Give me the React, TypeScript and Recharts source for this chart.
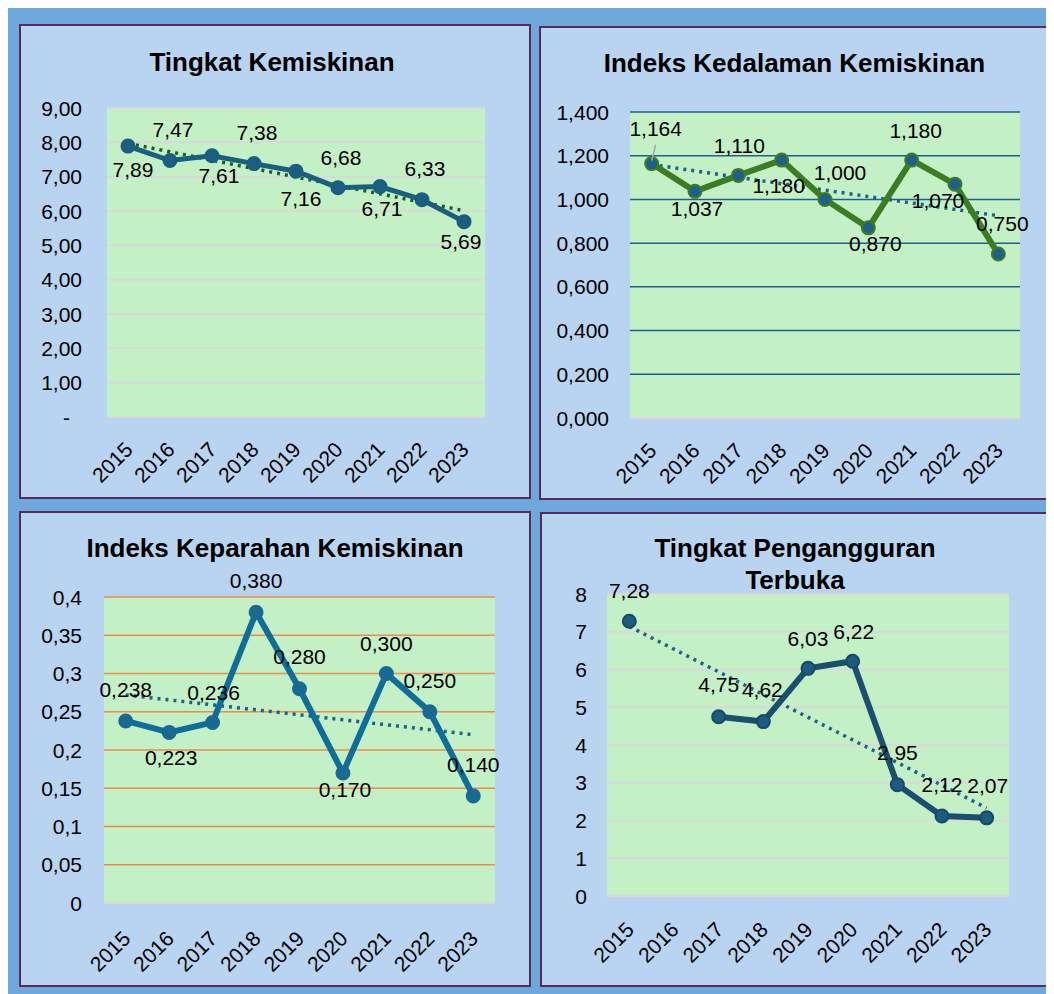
import React from "react";
import { LineChart, Line, XAxis, YAxis, CartesianGrid, LabelList } from "recharts";

const years = ["2015", "2016", "2017", "2018", "2019", "2020", "2021", "2022", "2023"];

// Tingkat Kemiskinan (%)
const kemiskinan = [7.89, 7.47, 7.61, 7.38, 7.16, 6.68, 6.71, 6.33, 5.69];
const kemiskinanTrend = [7.97, 6.01];
const kemiskinanTicks = [0, 1, 2, 3, 4, 5, 6, 7, 8, 9];

// Indeks Kedalaman Kemiskinan
const kedalaman = [1.164, 1.037, 1.11, 1.18, 1.0, 0.87, 1.18, 1.07, 0.75];
const kedalamanTrend = [1.16, 0.925];
const kedalamanTicks = [0, 0.2, 0.4, 0.6, 0.8, 1.0, 1.2, 1.4];

// Indeks Keparahan Kemiskinan
const keparahan = [0.238, 0.223, 0.236, 0.38, 0.28, 0.17, 0.3, 0.25, 0.14];
const keparahanTrend = [0.272, 0.22];
const keparahanTicks = [0, 0.05, 0.1, 0.15, 0.2, 0.25, 0.3, 0.35, 0.4];

// Tingkat Pengangguran Terbuka (2016 kosong)
const pengangguran = [7.28, null, 4.75, 4.62, 6.03, 6.22, 2.95, 2.12, 2.07];
const pengangguranTrend = [7.14, 2.33];
const pengangguranTicks = [0, 1, 2, 3, 4, 5, 6, 7, 8];

const FONT = "'Liberation Sans', Arial, sans-serif";
const FS = 21;

type Offset = [number, number];

function buildData(values: (number | null)[], trend: number[]) {
  return years.map((year, i) => ({
    year,
    value: values[i],
    trend: i === 0 ? trend[0] : i === years.length - 1 ? trend[1] : null,
  }));
}

const comma = (v: number, d: number) => v.toFixed(d).replace(".", ",");

type PanelProps = {
  left: number;
  top: number;
  width: number;
  height: number;
  title: string[];
  titleTop: number;
  titleDx?: number;
  data: { year: string; value: number | null; trend: number | null }[];
  ticks: number[];
  yFmt: (v: number) => string;
  yGap: number;
  labelDecimals: number;
  labelOffsets: Offset[];
  leader?: number;
  margin: { top: number; right: number; left: number; bottom: number };
  lineColor: string;
  lineWidth: number;
  dotFill: string;
  dotStroke: string;
  trendColor: string;
  gridColor: string;
  gridWidth: number;
  xLabelDy: number;
};

function Panel(p: PanelProps) {
  const plotW = p.width - p.margin.left - p.margin.right;
  const half = plotW / years.length / 2;

  const XTick = (props: any) => {
    const { x, y, payload } = props;
    const ax = x + 6;
    const ay = y + p.xLabelDy;
    return (
      <text
        x={ax}
        y={ay}
        textAnchor="end"
        fontSize={FS}
        fontFamily={FONT}
        fill="#000"
        transform={`rotate(-45 ${ax} ${ay})`}
      >
        {payload.value}
      </text>
    );
  };

  const YTick = (props: any) => {
    const { x, y, payload } = props;
    const txt = p.yFmt(payload.value);
    const shift = txt === "-" ? -12 : 0;
    return (
      <text
        x={x + shift}
        y={y}
        textAnchor="end"
        dominantBaseline="central"
        fontSize={FS}
        fontFamily={FONT}
        fill="#000"
      >
        {txt}
      </text>
    );
  };

  const renderLabel = (props: any) => {
    const { x, y, value, index } = props;
    if (value == null || x == null || y == null) return null;
    const [dx, dy] = p.labelOffsets[index] || [0, -30];
    return (
      <g key={`lbl-${index}`}>
        {p.leader === index && (
          <line x1={x} y1={y - 3} x2={x + 4} y2={y - 19} stroke="#a6a6a6" strokeWidth={1.5} />
        )}
        <text
          x={x + dx}
          y={y + dy}
          textAnchor="middle"
          dominantBaseline="central"
          fontSize={FS}
          fontFamily={FONT}
          fill="#000"
        >
          {comma(value, p.labelDecimals)}
        </text>
      </g>
    );
  };

  const yMax = p.ticks[p.ticks.length - 1];

  return (
    <div
      style={{
        position: "absolute",
        left: p.left,
        top: p.top,
        width: p.width,
        height: p.height,
        background: "#b9d4f0",
        boxShadow: "inset 0 0 0 2px #5c2a5a",
      }}
    >
      {p.title.map((t, i) => (
        <div
          key={t}
          style={{
            position: "absolute",
            left: p.titleDx || 0,
            width: p.width,
            top: p.titleTop + i * 32 - 16,
            lineHeight: "32px",
            textAlign: "center",
            fontFamily: FONT,
            fontWeight: "bold",
            fontSize: 26,
            color: "#000",
          }}
        >
          {t}
        </div>
      ))}
      <div style={{ position: "absolute", left: 0, top: 0 }}>
        <LineChart
          width={p.width}
          height={p.height}
          data={p.data}
          margin={{ top: p.margin.top, right: p.margin.right, left: 0, bottom: 0 }}
        >
          <CartesianGrid
            vertical={false}
            fill="#c4f0c6"
            fillOpacity={1}
            stroke={p.gridColor}
            strokeWidth={p.gridWidth}
          />
          <XAxis
            dataKey="year"
            height={p.margin.bottom}
            tick={XTick}
            tickLine={false}
            tickSize={0}
            tickMargin={0}
            padding={{ left: half, right: half }}
            axisLine={{ stroke: "#d9d9d9", strokeWidth: 2 }}
            interval={0}
          />
          <YAxis
            width={p.margin.left}
            domain={[0, yMax]}
            ticks={p.ticks}
            tick={YTick}
            tickLine={false}
            tickSize={0}
            tickMargin={p.yGap}
            axisLine={false}
            interval={0}
            allowDataOverflow
          />
          <Line
            dataKey="trend"
            stroke={p.trendColor}
            strokeWidth={3.5}
            strokeDasharray="3 5"
            dot={false}
            activeDot={false}
            connectNulls
            isAnimationActive={false}
          />
          <Line
            dataKey="value"
            stroke={p.lineColor}
            strokeWidth={p.lineWidth}
            dot={{ r: 6.5, fill: p.dotFill, stroke: p.dotStroke, strokeWidth: 2 }}
            activeDot={false}
            connectNulls={false}
            isAnimationActive={false}
          >
            <LabelList dataKey="value" content={renderLabel} />
          </Line>
        </LineChart>
      </div>
    </div>
  );
}

export default function App() {
  return (
    <div
      style={{
        position: "relative",
        width: 1046,
        height: 988,
        marginTop: -2,
        background: "#6fa8dc",
      }}
    >
      <Panel
        left={11}
        top={18}
        width={512}
        height={475}
        title={["Tingkat Kemiskinan"]}
        titleTop={38}
        titleDx={-3}
        data={buildData(kemiskinan, kemiskinanTrend)}
        ticks={kemiskinanTicks}
        yFmt={(v) => (v === 0 ? "-" : comma(v, 2))}
        yGap={25}
        labelDecimals={2}
        labelOffsets={[[5, 23], [3, -31], [7, 20], [3, -31], [5, 27], [3, -30], [2, 22], [3, -31], [-3, 20]]}
        margin={{ top: 84, right: 46, left: 88, bottom: 82 }}
        lineColor="#1a5f80"
        lineWidth={5}
        dotFill="#1a5f80"
        dotStroke="#1a5f80"
        trendColor="#1d5e20"
        gridColor="#d9d9d9"
        gridWidth={2}
        xLabelDy={34}
      />
      <Panel
        left={531}
        top={20}
        width={511}
        height={474}
        title={["Indeks Kedalaman Kemiskinan"]}
        titleTop={37}
        data={buildData(kedalaman, kedalamanTrend)}
        ticks={kedalamanTicks}
        yFmt={(v) => comma(v, 3)}
        yGap={21}
        labelDecimals={3}
        labelOffsets={[[4, -35], [2, 17], [1, -30], [-3, 25], [15, -27], [7, 16], [4, -30], [-17, 16], [4, -31]]}
        leader={0}
        margin={{ top: 86, right: 30, left: 91, bottom: 82 }}
        lineColor="#3c7d23"
        lineWidth={6}
        dotFill="#1f5f8b"
        dotStroke="#3c7d23"
        trendColor="#1f5f8b"
        gridColor="#1f5f8b"
        gridWidth={1.5}
        xLabelDy={34}
      />
      <Panel
        left={11}
        top={505}
        width={512}
        height={476}
        title={["Indeks Keparahan Kemiskinan"]}
        titleTop={37}
        data={buildData(keparahan, keparahanTrend)}
        ticks={keparahanTicks}
        yFmt={(v) => (v === 0 ? "0" : String(v).replace(".", ","))}
        yGap={22}
        labelDecimals={3}
        labelOffsets={[[0, -31], [2, 25], [1, -30], [0, -32], [0, -32], [2, 17], [0, -30], [0, -31], [0, -31]]}
        margin={{ top: 86, right: 36, left: 85, bottom: 84 }}
        lineColor="#0f6e99"
        lineWidth={6}
        dotFill="#196a93"
        dotStroke="#196a93"
        trendColor="#1f5f8b"
        gridColor="#ee8a4a"
        gridWidth={1.5}
        xLabelDy={37}
      />
      <Panel
        left={532}
        top={506}
        width={510}
        height={475}
        title={["Tingkat Pengangguran", "Terbuka"]}
        titleTop={36}
        data={buildData(pengangguran, pengangguranTrend)}
        ticks={pengangguranTicks}
        yFmt={(v) => String(v)}
        yGap={20}
        labelDecimals={2}
        labelOffsets={[[0, -31], [0, -31], [0, -32], [-1, -32], [0, -30], [1, -30], [0, -32], [0, -31], [1, -32]]}
        margin={{ top: 82, right: 41, left: 67, bottom: 91 }}
        lineColor="#1a4f6e"
        lineWidth={6}
        dotFill="#1c5c80"
        dotStroke="#164a68"
        trendColor="#1f5f8b"
        gridColor="#d9d9d9"
        gridWidth={2}
        xLabelDy={35}
      />
    </div>
  );
}
